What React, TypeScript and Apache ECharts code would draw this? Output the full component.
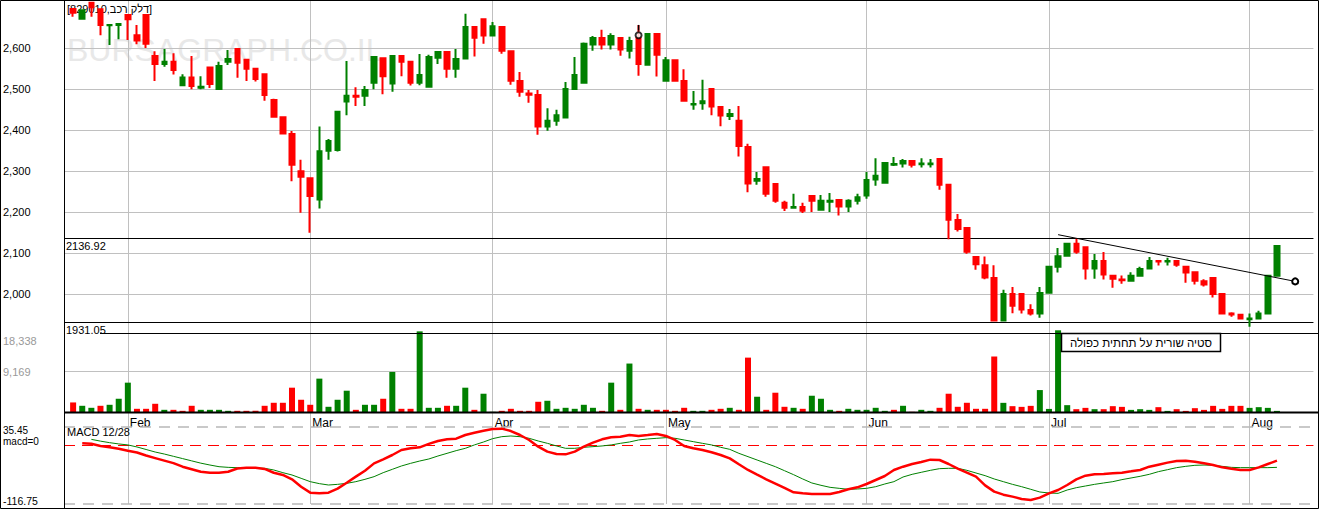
import React, { useEffect, useRef } from 'react';
import * as echarts from 'echarts';

// ---------- data ----------
const monthNames = ['Feb', 'Mar', 'Apr', 'May', 'Jun', 'Jul', 'Aug'];
const monthStartDay = [6, 26, 46, 65, 87, 107, 129];

const openPrices = [
  2696, 2672, 2711, 2695, 2656, 2657, 2681, 2632, 2681, 2581,
  2562, 2567, 2510, 2529, 2504, 2553, 2501, 2567, 2598, 2572,
  2550, 2537, 2474, 2432, 2391, 2300, 2283, 2231, 2350, 2352,
  2470, 2484, 2484, 2516, 2576, 2514, 2581, 2567, 2516, 2506,
  2577, 2591, 2550, 2575, 2652, 2671, 2631, 2652, 2593, 2520,
  2490, 2486, 2409, 2423, 2431, 2501, 2516, 2609, 2625, 2609,
  2625, 2594, 2625, 2560, 2635, 2521, 2571, 2520, 2463, 2466,
  2501, 2457, 2435, 2423, 2359, 2277, 2310, 2269, 2223, 2211,
  2213, 2240, 2206, 2226, 2230, 2214, 2228, 2241, 2280, 2272,
  2316, 2319, 2325, 2317, 2317, 2330, 2267, 2181, 2162, 2091,
  2071, 2040, 1936, 2001, 2001, 1962, 1953, 2004, 2067, 2094,
  2123, 2115, 2063, 2081, 2045, 2036, 2033, 2045, 2063, 2081,
  2080, 2081, 2067, 2054, 2032, 2040, 2001, 1953, 1950, 1939,
  1941, 1953, 2045,
];
const closePrices = [
  2687, 2693, 2700, 2657, 2657, 2659, 2671, 2619, 2611, 2562,
  2567, 2547, 2529, 2508, 2506, 2513, 2557, 2574, 2565, 2550,
  2525, 2486, 2433, 2392, 2316, 2287, 2240, 2349, 2374, 2445,
  2484, 2482, 2498, 2579, 2532, 2581, 2567, 2516, 2535, 2579,
  2591, 2550, 2574, 2652, 2626, 2631, 2654, 2594, 2521, 2494,
  2487, 2409, 2423, 2437, 2501, 2535, 2611, 2625, 2609, 2630,
  2597, 2618, 2562, 2635, 2584, 2571, 2521, 2472, 2464, 2471,
  2458, 2436, 2440, 2362, 2270, 2281, 2245, 2228, 2211, 2213,
  2204, 2228, 2228, 2228, 2214, 2228, 2237, 2279, 2289, 2320,
  2318, 2325, 2316, 2319, 2319, 2267, 2182, 2159, 2104, 2073,
  2041, 1936, 2001, 1972, 1963, 1953, 2003, 2067, 2093, 2123,
  2104, 2063, 2081, 2048, 2038, 2034, 2045, 2062, 2081, 2080,
  2081, 2072, 2053, 2033, 2024, 2001, 1953, 1951, 1941, 1941,
  1953, 2045, 2118,
];
const lowPrices = [
  2677, 2671, 2677, 2632, 2608, 2622, 2620, 2610, 2601, 2520,
  2555, 2536, 2510, 2500, 2500, 2503, 2501, 2559, 2528, 2520,
  2519, 2472, 2433, 2391, 2276, 2199, 2150, 2209, 2328, 2348,
  2437, 2459, 2459, 2500, 2488, 2494, 2532, 2509, 2510, 2506,
  2562, 2528, 2528, 2575, 2580, 2611, 2631, 2587, 2511, 2482,
  2467, 2389, 2399, 2411, 2431, 2501, 2516, 2594, 2597, 2597,
  2582, 2575, 2533, 2560, 2531, 2521, 2521, 2472, 2450, 2450,
  2437, 2410, 2425, 2336, 2249, 2267, 2238, 2223, 2203, 2211,
  2198, 2201, 2206, 2201, 2192, 2201, 2219, 2233, 2265, 2272,
  2313, 2309, 2309, 2309, 2309, 2255, 2134, 2153, 2099, 2060,
  2037, 1936, 1936, 1954, 1953, 1948, 1943, 2004, 2053, 2094,
  2099, 2036, 2038, 2036, 2016, 2026, 2033, 2045, 2063, 2070,
  2070, 2067, 2028, 2024, 2019, 1992, 1953, 1945, 1941, 1921,
  1941, 1953, 2045,
];
const highPrices = [
  2697, 2695, 2712, 2696, 2658, 2659, 2682, 2657, 2682, 2593,
  2598, 2588, 2537, 2581, 2532, 2555, 2567, 2596, 2599, 2572,
  2550, 2538, 2477, 2433, 2398, 2328, 2284, 2409, 2379, 2445,
  2569, 2505, 2508, 2579, 2577, 2582, 2582, 2567, 2586, 2584,
  2593, 2592, 2598, 2684, 2652, 2672, 2664, 2652, 2594, 2542,
  2498, 2498, 2454, 2450, 2518, 2579, 2614, 2630, 2645, 2637,
  2626, 2628, 2657, 2635, 2635, 2579, 2572, 2549, 2496, 2523,
  2501, 2457, 2452, 2459, 2367, 2298, 2311, 2270, 2228, 2245,
  2223, 2241, 2242, 2247, 2230, 2232, 2245, 2298, 2332, 2321,
  2335, 2330, 2326, 2332, 2330, 2331, 2268, 2196, 2163, 2092,
  2092, 2071, 2011, 2018, 2002, 1976, 2018, 2067, 2113, 2125,
  2137, 2116, 2098, 2103, 2046, 2046, 2054, 2067, 2091, 2082,
  2089, 2082, 2067, 2055, 2037, 2040, 2001, 1956, 1950, 1953,
  1960, 2045, 2118,
];

const volumes = [
  2244, 1496, 1047, 1496, 1720, 3067, 6657, 823, 823, 1945,
  598, 598, 374, 1496, 598, 598, 598, 374, 374, 374,
  374, 1496, 2169, 2169, 5535, 2842, 1720, 7555, 1272, 2842,
  4862, 598, 1720, 1720, 3067, 9051, 823, 823, 18100, 1047,
  1047, 1496, 1496, 5535, 598, 4189, 150, 374, 823, 374,
  374, 2393, 2618, 823, 1047, 823, 1720, 1047, 374, 6657,
  598, 10921, 823, 598, 598, 598, 374, 1047, 374, 374,
  598, 823, 1047, 598, 12243, 3515, 598, 4413, 1272, 1047,
  823, 3740, 3067, 598, 374, 823, 598, 598, 1047, 374,
  598, 1496, 150, 598, 374, 1047, 4189, 1272, 2169, 823,
  823, 12492, 2155, 1414, 1257, 1482, 5006, 800, 18338, 1639,
  741, 1033, 741, 741, 1414, 1257, 584, 741, 584, 1190,
  359, 741, 359, 965, 584, 1482, 808, 1482, 1482, 1033,
  1190, 1033, 359,
];
const volumeUp = [
  0, 1, 1, 0, 1, 1, 1, 0, 0, 0,
  1, 0, 0, 0, 1, 1, 1, 1, 0, 0,
  0, 0, 0, 0, 0, 0, 0, 1, 1, 1,
  1, 0, 1, 1, 0, 1, 0, 0, 1, 1,
  1, 0, 1, 1, 0, 1, 1, 0, 0, 0,
  0, 0, 1, 1, 1, 1, 1, 1, 0, 1,
  0, 1, 0, 1, 0, 0, 0, 0, 1, 1,
  0, 0, 1, 0, 0, 1, 0, 0, 0, 1,
  0, 1, 1, 1, 0, 1, 1, 1, 1, 1,
  0, 1, 0, 1, 1, 0, 0, 0, 0, 0,
  0, 0, 1, 0, 0, 0, 1, 1, 1, 1,
  0, 0, 1, 0, 0, 0, 1, 1, 1, 0,
  1, 0, 0, 0, 0, 0, 0, 0, 0, 1,
  1, 1, 1,
];

const macdValues = [
  null, 3.2, 2.2, -2, -4.6, -7.5, -11.5, -15, -21, -26,
  -31, -36, -43, -48, -53, -55, -55, -53, -46.5, -45,
  -45, -47.5, -55, -59.4, -68, -82.5, -94.3, -95.7, -94.3, -86.4,
  -74.6, -62.7, -50.9, -36.4, -28.5, -19.9, -10, -6.7, -4.7, 2,
  7.8, 11.1, 12.4, 19.6, 24.2, 28.2, 31.5, 32.2, 27.5, 19.6,
  9.8, -3.4, -13.3, -17.9, -18.6, -13.3, -3.4, 4.5, 11.1, 15,
  16.3, 19.6, 17.7, 19.6, 21.6, 17.7, 9.8, -2, -6.7, -10,
  -14.6, -19.9, -26.5, -38.3, -49.5, -58.8, -68, -76.5, -85.1, -93.7,
  -95.7, -97, -97, -97, -93, -87.7, -83.8, -77.2, -69.3, -61.4,
  -49.5, -43, -37.7, -33.7, -29.1, -29.8, -37.7, -46.9, -54.8, -62.7,
  -80, -92.3, -98.3, -102.2, -106.9, -108.8, -104.2, -95.7, -89.1, -79.2,
  -68, -60.7, -58.1, -57.4, -56.1, -54.8, -52.2, -49.5, -43, -39,
  -35, -31.8, -31.1, -33.1, -36.4, -39.7, -44.3, -46.9, -49.5, -49.5,
  -44.3, -37.7, -31.1,
];
const signalValues = [
  null, null, 11, 7.5, 4.5, 2, 0, -4, -9, -14,
  -18, -22.5, -27, -31.5, -36, -39.7, -43, -44.3, -45, -45,
  -45.6, -46.2, -49.5, -54.8, -59.4, -66, -72.6, -76.5, -79.2, -77.9,
  -75.9, -72.6, -68, -62.7, -54.8, -48.2, -41.6, -36.4, -31.8, -27.8,
  -21.9, -16.6, -11.3, -6.7, 0, 5.8, 12.4, 16.3, 17.7, 16.3,
  13.1, 7.8, 3.2, -2, -6.7, -6.7, -4.7, -3.4, -2, 0,
  3.2, 5.8, 9.8, 11.8, 13.1, 14.4, 13.1, 9.8, 6.5, 3.2,
  0, -4.7, -8.7, -16.6, -23.2, -29.8, -36.4, -43, -50.9, -58.8,
  -67.3, -75.2, -79.8, -83.8, -85.8, -87.7, -87.1, -85.8, -82.5, -77.2,
  -72.6, -63.4, -58.1, -54.1, -50.2, -46.9, -46.2, -46.2, -50.2, -55.5,
  -60.7, -67.3, -72.6, -77.9, -82.5, -87.7, -93, -95, -95.7, -89.1,
  -84.5, -81.2, -77.9, -75.2, -72.6, -68.6, -65.3, -62, -58.1, -52.8,
  -48.9, -44.9, -42.3, -40.3, -39.7, -40.3, -42.3, -44.3, -44.9, -44.9,
  -44.9, -44.9, -44.3,
];

const priceGridLevels = [2000, 2100, 2200, 2300, 2400, 2500, 2600];
const levelLines = [2136.92, 1931.05];
const trendLinePoints = [[108, 2145.4], [134, 2031.5]]; // [day index, price]
const anchorPoint = [62, 2632];
const anchorTick = [[62, 2657], [62, 2643]];
const volumeGridLevel = 9169;
const volumeMax = 18338;
const macdTop = 35.45;
const macdBottom = -116.75;
const titleText = '[829010,דלק רכב]';
const annotationText = 'סטיה שורית על תחתית כפולה';
const watermarkText = 'BURSAGRAPH.CO.IL';

// ---------- layout / styles ----------
const GREEN = '#008000';
const RED = '#ff0000';
const GRID_GRAY = '#c0c0c0';
const FONT = '"Liberation Sans", Arial, sans-serif';
const LEAD = 1;
const TRAIL = 4;
const STEP = 9.12;
const PLOT_LEFT = 64;

const N = openPrices.length;
const TOTAL = LEAD + N + TRAIL;
const PLOT_W = (TOTAL - 1) * STEP;
const categories = Array.from({ length: TOTAL }, (_, i) => String(i));
const monthAt = new Map<number, string>(monthStartDay.map((d, i) => [d + LEAD, monthNames[i]]));

function pad<T>(arr: T[]): (T | '-')[] {
  return [...Array(LEAD).fill('-'), ...arr, ...Array(TRAIL).fill('-')];
}

const candleData = pad(openPrices.map((o, i) => [o, closePrices[i], lowPrices[i], highPrices[i]]));
const volumeData = pad(
  volumes.map((v, i) => ({ value: v, itemStyle: { color: volumeUp[i] ? GREEN : RED } }))
);
const macdData = pad(macdValues.map((v) => (v == null ? '-' : v)));
const signalData = pad(signalValues.map((v) => (v == null ? '-' : v)));

function xAxisFor(gridIndex: number) {
  return {
    type: 'category',
    gridIndex,
    data: categories,
    boundaryGap: false,
    axisLine: { show: false },
    axisTick: { show: false },
    axisLabel:
      gridIndex === 1
        ? {
            show: true,
            interval: (i: number) => monthAt.has(i),
            formatter: (v: string) => monthAt.get(Number(v)) || '',
            align: 'left',
            padding: [0, 0, 0, 2],
            margin: 4,
            fontSize: 12,
            color: '#000',
            fontFamily: FONT,
          }
        : { show: false },
    splitLine: {
      show: true,
      interval: (i: number) => monthAt.has(i),
      lineStyle: { color: GRID_GRAY, width: 1 },
    },
  };
}

const leftText = (text: string, y: number, color = '#000', size = 11) => ({
  type: 'text',
  x: 3,
  y,
  z: 50,
  style: { text, fill: color, fontSize: size, fontFamily: FONT, align: 'left', verticalAlign: 'middle' },
});

const frameLine = (x1: number, y1: number, x2: number, y2: number, w = 1) => ({
  type: 'line',
  z: 60,
  shape: { x1, y1, x2, y2 },
  style: { stroke: '#000', lineWidth: w },
  silent: true,
});

export default function App() {
  const ref = useRef<HTMLDivElement>(null);

  useEffect(() => {
    if (!ref.current) return;
    const chart = echarts.init(ref.current, null, { renderer: 'svg' });

    const option: any = {
      animation: false,
      backgroundColor: '#ffffff',
      grid: [
        { left: PLOT_LEFT, top: 0, width: PLOT_W, height: 335.3 },
        { left: PLOT_LEFT, top: 330.3, width: PLOT_W, height: 82.2 },
        { left: PLOT_LEFT, top: 413, width: PLOT_W, height: 91 },
      ],
      xAxis: [xAxisFor(0), xAxisFor(1), xAxisFor(2)],
      yAxis: [
        {
          type: 'value',
          gridIndex: 0,
          min: 1900,
          max: 2717.8,
          interval: 100,
          axisLine: { show: false },
          axisTick: { show: false },
          splitLine: { show: false },
          axisLabel: {
            formatter: (v: number) => (v >= 2000 && v <= 2600 ? v.toLocaleString('en-US') : ''),
            align: 'left',
            margin: 61,
            fontSize: 11,
            color: '#000',
            fontFamily: FONT,
          },
        },
        { type: 'value', gridIndex: 1, min: 0, max: volumeMax, show: false },
        { type: 'value', gridIndex: 2, min: macdBottom, max: 63.12, show: false },
      ],
      series: [
        {
          type: 'candlestick',
          xAxisIndex: 0,
          yAxisIndex: 0,
          data: candleData,
          barWidth: 5,
          itemStyle: {
            color: GREEN,
            color0: RED,
            borderColor: GREEN,
            borderColor0: RED,
            borderWidth: 2,
          },
          markLine: {
            silent: true,
            z: 1,
            symbol: ['none', 'none'],
            animation: false,
            label: { show: false },
            data: [
              ...priceGridLevels.map((v) => ({
                yAxis: v,
                lineStyle: { color: GRID_GRAY, width: 1, type: 'solid' },
                label: { show: false },
              })),
              ...levelLines.map((v) => ({
                yAxis: v,
                lineStyle: { color: '#000', width: 1, type: 'solid' },
                label: {
                  show: true,
                  position: 'insideStartBottom',
                  formatter: v.toFixed(2),
                  color: '#000',
                  fontSize: 11,
                  fontFamily: FONT,
                  distance: [2, 2],
                },
              })),
            ],
          },
        },
        {
          type: 'bar',
          xAxisIndex: 1,
          yAxisIndex: 1,
          data: volumeData,
          barWidth: 6,
          markLine: {
            silent: true,
            z: 1,
            symbol: ['none', 'none'],
            animation: false,
            label: { show: false },
            data: [{ yAxis: volumeGridLevel, lineStyle: { color: GRID_GRAY, width: 1, type: 'solid' } }],
          },
        },
        {
          type: 'line',
          xAxisIndex: 2,
          yAxisIndex: 2,
          data: signalData,
          symbol: 'none',
          showSymbol: false,
          lineStyle: { color: GREEN, width: 1 },
          markLine: {
            silent: true,
            z: 1,
            symbol: ['none', 'none'],
            animation: false,
            label: { show: false },
            data: [
              { yAxis: macdTop, lineStyle: { color: '#b8b8b8', width: 1.5, type: [11, 8] } },
              { yAxis: macdBottom, lineStyle: { color: '#b8b8b8', width: 1.5, type: [11, 8] } },
              { yAxis: 0, lineStyle: { color: RED, width: 1, type: [11, 7] } },
            ],
          },
        },
        {
          type: 'line',
          xAxisIndex: 2,
          yAxisIndex: 2,
          data: macdData,
          symbol: 'none',
          showSymbol: false,
          lineStyle: { color: RED, width: 2.5 },
        },
        {
          type: 'line',
          xAxisIndex: 0,
          yAxisIndex: 0,
          showSymbol: true,
          symbol: 'none',
          data: [
            { value: [trendLinePoints[0][0] + LEAD, trendLinePoints[0][1]], symbol: 'none' },
            {
              value: [trendLinePoints[1][0] + LEAD, trendLinePoints[1][1]],
              symbol: 'emptyCircle',
              symbolSize: 6,
            },
          ],
          lineStyle: { color: '#000', width: 1 },
          itemStyle: { color: '#000', borderWidth: 2 },
          z: 5,
        },
        {
          type: 'line',
          xAxisIndex: 0,
          yAxisIndex: 0,
          symbol: 'none',
          data: anchorTick.map((p) => [p[0] + LEAD, p[1]]),
          lineStyle: { color: '#000', width: 1.5 },
          z: 5,
        },
        {
          type: 'scatter',
          xAxisIndex: 0,
          yAxisIndex: 0,
          symbol: 'emptyCircle',
          symbolSize: 6,
          data: [[anchorPoint[0] + LEAD, anchorPoint[1]]],
          itemStyle: { color: '#000', borderWidth: 2 },
          z: 6,
        },
      ],
      graphic: [
        {
          type: 'text',
          x: 67,
          y: 50,
          z: 0,
          silent: true,
          style: {
            text: watermarkText,
            fill: '#e8e8e8',
            fontSize: 32,
            fontFamily: FONT,
            align: 'left',
            verticalAlign: 'middle',
          },
        },
        {
          type: 'text',
          x: 67,
          y: 9,
          z: 0,
          silent: true,
          style: {
            text: titleText,
            fill: '#000',
            fontSize: 11,
            fontFamily: FONT,
            align: 'left',
            verticalAlign: 'middle',
          },
        },
        {
          type: 'text',
          x: 67,
          y: 432,
          z: 50,
          silent: true,
          style: { text: 'MACD 12/28', fill: '#000', fontSize: 11, fontFamily: FONT, align: 'left', verticalAlign: 'middle' },
        },
        leftText(volumeMax.toLocaleString('en-US'), 341, '#999'),
        leftText(volumeGridLevel.toLocaleString('en-US'), 372, '#999'),
        leftText(String(macdTop), 430, '#000', 10),
        leftText('macd=0', 441.5, '#000', 10),
        leftText(String(macdBottom), 501, '#000', 10.5),
        frameLine(100, 333.5, 1318, 333.5, 1),
        frameLine(64, 412.5, 1318, 412.5, 2),
        frameLine(64.5, 0, 64.5, 508, 1),
        {
          type: 'rect',
          z: 60,
          silent: true,
          shape: { x: 0.5, y: 0.5, width: 1318, height: 508 },
          style: { fill: 'none', stroke: '#000', lineWidth: 1 },
        },
        {
          type: 'rect',
          z: 70,
          silent: true,
          shape: { x: 1061.5, y: 333.5, width: 159, height: 18 },
          style: { fill: '#fff', stroke: '#000', lineWidth: 1.5 },
        },
        {
          type: 'text',
          z: 71,
          silent: true,
          x: 1141,
          y: 342.5,
          style: {
            text: annotationText,
            fill: '#000',
            fontSize: 11.5,
            fontFamily: FONT,
            align: 'center',
            verticalAlign: 'middle',
          },
        },
      ],
    };

    chart.setOption(option);
    return () => chart.dispose();
  }, []);

  return (
    <div
      ref={ref}
      style={{ position: 'fixed', left: 0, top: 0, width: 1320, height: 510, background: '#fff' }}
    />
  );
}
